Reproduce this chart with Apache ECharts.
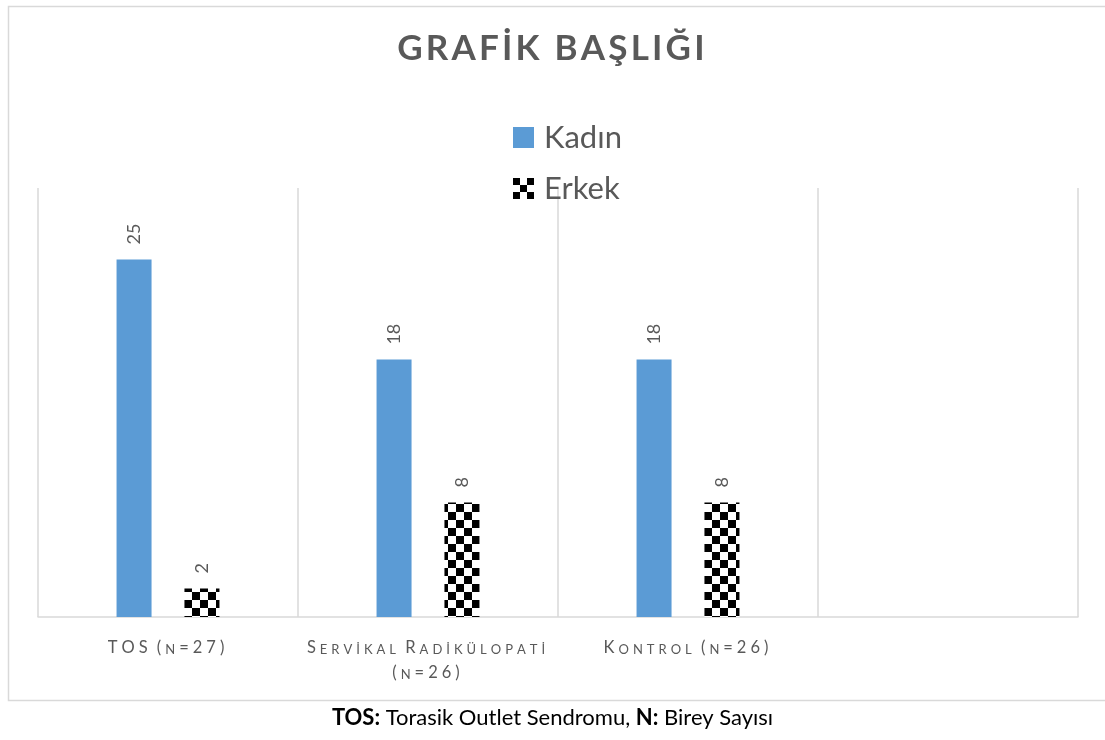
<!DOCTYPE html>
<html><head><meta charset="utf-8">
<script src="https://cdn.jsdelivr.net/npm/echarts@6/dist/echarts.min.js"></script>
<style>html,body{margin:0;padding:0;background:#fff}#c{width:1105px;height:740px}</style>
</head><body><div id="c"></div>
<script>
const categories = ['TOS (n=27)', 'Servikal Radikülopati\n(n=26)', 'Kontrol (n=26)', ''];
const kadin = [25, 18, 18, null];
const erkek = [2, 8, 8, null];
const seriesNames = ['Kadın', 'Erkek'];
const titleText = 'GRAFİK BAŞLIĞI';
const footerBold1 = 'TOS:';
const footerText1 = ' Torasik Outlet Sendromu, ';
const footerBold2 = 'N:';
const footerText2 = ' Birey Sayısı';
const yMax = 30;

const FONT = 'Lato, "Open Sans", sans-serif';
const GRAY = '#595959';

function checker(cell, n) {
  const c = document.createElement('canvas');
  c.width = c.height = cell * n;
  const ctx = c.getContext('2d');
  ctx.fillStyle = '#fff'; ctx.fillRect(0, 0, c.width, c.height);
  ctx.fillStyle = '#000';
  for (let i = 0; i < n; i++) for (let j = 0; j < n; j++)
    if ((i + j) % 2 === 0) ctx.fillRect(i * cell, j * cell, cell, cell);
  return c;
}
const barPattern = checker(8, 2);
const legendIcon = checker(7, 3).toDataURL();

function smallCaps(str) {
  return str.split('\n').map(line => Array.from(line).map(ch => {
    if (ch === ' ') return '{sp| }';
    const up = ch.toLocaleUpperCase('tr');
    return '{' + (ch !== up ? 's' : 'b') + '|' + up + '}';
  }).join('')).join('\n');
}
function spaced(str, style) {
  return Array.from(str).map(ch => '{' + style + '|' + ch + '}').join('');
}

const chart = echarts.init(document.getElementById('c'));
chart.setOption({
  animation: false,
  backgroundColor: '#fff',
  title: [{
    text: spaced(titleText, 't'),
    left: 'center',
    top: 26,
    textStyle: {
      rich: {
        t: { fontSize: 35, fontWeight: 'bold', color: GRAY, fontFamily: FONT, padding: [0, 3.2, 0, 0] }
      }
    }
  }, {
    text: '{b|' + footerBold1 + '}{n|' + footerText1 + '}{b|' + footerBold2 + '}{n|' + footerText2 + '}',
    left: 'center',
    top: 702,
    textStyle: {
      fontWeight: 'normal',
      rich: {
        b: { fontSize: 22, fontWeight: 'bold', color: '#000', fontFamily: FONT },
        n: { fontSize: 22, fontWeight: 'normal', color: '#000', fontFamily: FONT }
      }
    }
  }],
  graphic: [{
    type: 'rect',
    shape: { x: 8.5, y: 6.5, width: 1110, height: 694 },
    style: { fill: 'none', stroke: '#d9d9d9', lineWidth: 1.5 },
    silent: true
  }],
  legend: {
    orient: 'vertical',
    left: 508,
    top: 117,
    itemWidth: 21,
    itemHeight: 21,
    itemGap: 20,
    textStyle: { fontSize: 31, color: GRAY, fontFamily: FONT, padding: [0, 0, 0, 5] },
    data: [
      { name: seriesNames[0], icon: 'rect' },
      { name: seriesNames[1], icon: 'image://' + legendIcon }
    ]
  },
  grid: { left: 38, right: 27, top: 188, bottom: 123, containLabel: false },
  xAxis: {
    type: 'category',
    data: categories,
    axisLine: { lineStyle: { color: '#d9d9d9', width: 1.5 } },
    axisTick: { show: false },
    splitLine: { show: true, lineStyle: { color: '#d9d9d9', width: 1.5 } },
    axisLabel: {
      interval: 0,
      margin: 14,
      formatter: v => smallCaps(v),
      rich: {
        b: { fontSize: 16.5, color: GRAY, fontFamily: FONT, padding: [0, 4, 0, 0], verticalAlign: 'bottom', lineHeight: 25 },
        s: { fontSize: 13, color: GRAY, fontFamily: FONT, padding: [0, 4, 0, 0], verticalAlign: 'bottom', lineHeight: 25 },
        sp: { fontSize: 16.5, color: GRAY, fontFamily: FONT, padding: [0, 1, 0, 0], verticalAlign: 'bottom', lineHeight: 25 }
      }
    }
  },
  yAxis: {
    type: 'value', min: 0, max: yMax, show: false,
    splitLine: { show: false }
  },
  series: [{
    name: seriesNames[0],
    type: 'bar',
    data: kadin,
    barWidth: 35,
    barGap: '94%',
    itemStyle: { color: '#5b9bd5' },
    label: { show: true, position: 'top', rotate: 90, align: 'left', verticalAlign: 'middle', distance: 15, fontSize: 18, color: GRAY, fontFamily: FONT }
  }, {
    name: seriesNames[1],
    type: 'bar',
    data: erkek,
    barWidth: 35,
    barGap: '94%',
    itemStyle: { color: { image: barPattern, repeat: 'repeat' } },
    label: { show: true, position: 'top', rotate: 90, align: 'left', verticalAlign: 'middle', distance: 15, fontSize: 18, color: GRAY, fontFamily: FONT }
  }]
});
</script></body></html>
